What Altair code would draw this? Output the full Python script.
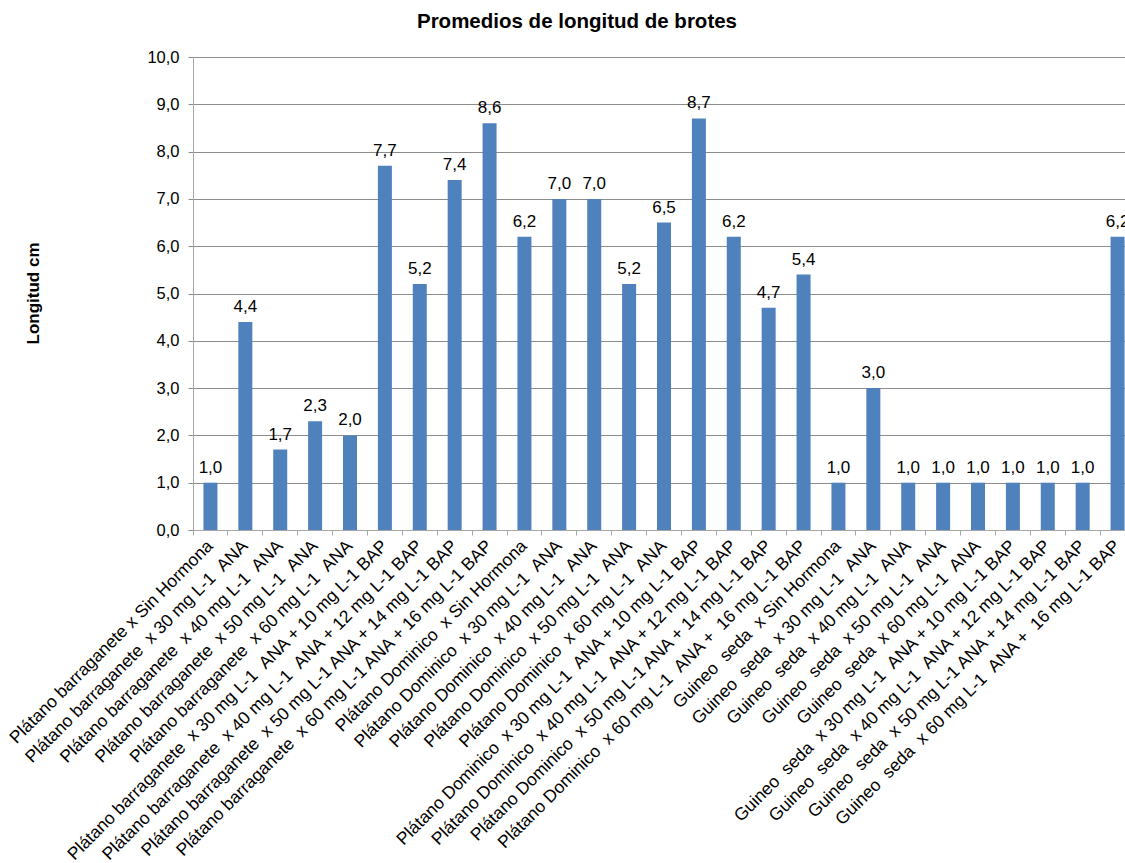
import altair as alt
import pandas as pd

# Treatment labels (cultivar x hormone combination)
tratamientos = [
    "Plátano barraganete x Sin Hormona",
    "Plátano barraganete  x 30 mg L-1  ANA",
    "Plátano barraganete  x 40 mg L-1  ANA",
    "Plátano barraganete  x 50 mg L-1  ANA",
    "Plátano barraganete  x 60 mg L-1  ANA",
    "Plátano barraganete  x 30 mg L-1  ANA + 10 mg L-1 BAP",
    "Plátano barraganete  x 40 mg L-1  ANA + 12 mg L-1 BAP",
    "Plátano barraganete  x 50 mg L-1 ANA + 14 mg L-1 BAP",
    "Plátano barraganete  x 60 mg L-1 ANA + 16 mg L-1 BAP",
    "Plátano Dominico  x Sin Hormona",
    "Plátano Dominico  x 30 mg L-1  ANA",
    "Plátano Dominico  x 40 mg L-1  ANA",
    "Plátano Dominico  x 50 mg L-1  ANA",
    "Plátano Dominico  x 60 mg L-1  ANA",
    "Plátano Dominico  x 30 mg L-1  ANA + 10 mg L-1 BAP",
    "Plátano Dominico  x 40 mg L-1  ANA + 12 mg L-1 BAP",
    "Plátano Dominico  x 50 mg L-1 ANA + 14 mg L-1 BAP",
    "Plátano Dominico  x 60 mg L-1  ANA +  16 mg L-1 BAP",
    "Guineo  seda  x Sin Hormona",
    "Guineo  seda  x 30 mg L-1  ANA",
    "Guineo  seda  x 40 mg L-1  ANA",
    "Guineo  seda  x 50 mg L-1  ANA",
    "Guineo  seda  x 60 mg L-1  ANA",
    "Guineo  seda  x 30 mg L-1  ANA + 10 mg L-1 BAP",
    "Guineo  seda  x 40 mg L-1  ANA + 12 mg L-1 BAP",
    "Guineo  seda  x 50 mg L-1 ANA + 14 mg L-1 BAP",
    "Guineo  seda  x 60 mg L-1  ANA +  16 mg L-1 BAP",
]

# Mean shoot length (cm)
longitud = [
    1.0, 4.4, 1.7, 2.3, 2.0, 7.7, 5.2, 7.4, 8.6,
    6.2, 7.0, 7.0, 5.2, 6.5, 8.7, 6.2, 4.7, 5.4,
    1.0, 3.0, 1.0, 1.0, 1.0, 1.0, 1.0, 1.0, 6.2,
]

# SVG collapses runs of spaces; keep the doubled ones with a no-break space
nombres = [t.replace("  ", " \u00a0") for t in tratamientos]

df = pd.DataFrame({"tratamiento": nombres, "longitud": longitud})
df["etiqueta"] = df["longitud"].map(lambda v: f"{v:.1f}".replace(".", ","))

FONT = "Liberation Sans"
BLUE = "#4F81BD"

x_enc = alt.X(
    "tratamiento:N",
    sort=nombres,
    scale=alt.Scale(range=[0, 942], paddingInner=0, paddingOuter=0),
    axis=alt.Axis(
        title=None,
        labelAngle=-45,
        labelAlign="right",
        labelBaseline="middle",
        labelFont=FONT,
        labelFontSize=17.5,
        labelColor="#000000",
        labelPadding=8,
        labelLimit=0,
        labelOverlap=False,
        bandPosition=0,
        tickSize=5,
        tickColor="#a6a6a6",
        domainColor="#a6a6a6",
        grid=False,
    ),
)

y_enc = alt.Y(
    "longitud:Q",
    scale=alt.Scale(domain=[0, 10], nice=False),
    axis=alt.Axis(
        title="Longitud cm",
        titleFont=FONT,
        titleFontSize=17,
        titleFontWeight="bold",
        titleColor="#000000",
        titleAngle=-90,
        titleX=-160,
        titleY=236,
        titleAlign="center",
        titleBaseline="middle",
        values=list(range(0, 11)),
        labelExpr="replace(format(datum.value, '.1f'), '.', ',')",
        labelFont=FONT,
        labelFontSize=16.5,
        labelColor="#000000",
        labelPadding=9,
        tickSize=5,
        tickColor="#8c8c8c",
        domainColor="#a6a6a6",
        gridColor="#8c8c8c",
        gridWidth=1,
    ),
)

bars = alt.Chart(df).mark_bar(size=14, color=BLUE).encode(x=x_enc, y=y_enc)

labels = alt.Chart(df).mark_text(
    baseline="alphabetic", dy=-10, font=FONT, fontSize=17, color="#000000"
).encode(
    x=alt.X("tratamiento:N", sort=nombres),
    y="longitud:Q",
    text="etiqueta:N",
)

chart = (
    alt.layer(bars, labels)
    .properties(
        width=932,
        height=473,
        title=alt.TitleParams(
            "Promedios de longitud de brotes",
            font=FONT,
            fontSize=20.5,
            fontWeight="bold",
            color="#000000",
            anchor="middle",
            dx=-82,
            offset=17,
        ),
        autosize=alt.AutoSizeParams(type="none"),
        padding={"left": 193, "top": 57, "right": 0, "bottom": 333},
    )
    .configure_view(stroke=None)
    .configure(background="white")
)

chart.save("out.html", embed_options={"renderer": "svg", "actions": False})
